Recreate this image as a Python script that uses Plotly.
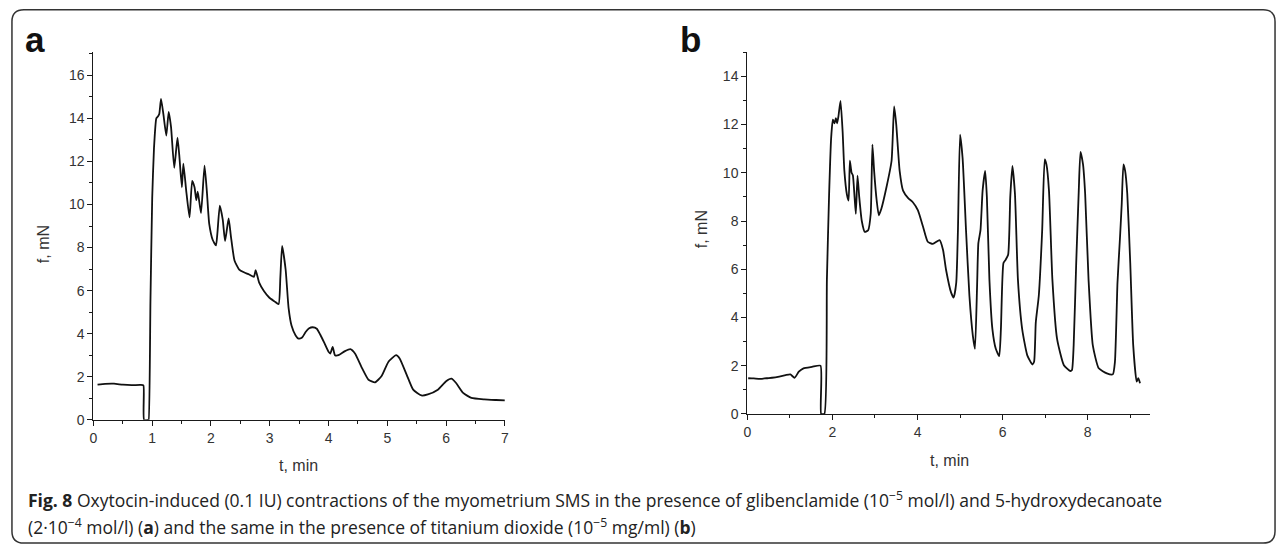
import plotly.graph_objects as go

# ---------------- data ----------------
a_t = [0.07, 0.2, 0.35, 0.5, 0.65, 0.8, 0.85, 0.862, 0.935, 0.94, 0.97, 1.0, 1.03, 1.07,
       1.1, 1.12, 1.15, 1.19, 1.24, 1.28, 1.32, 1.375, 1.43, 1.46, 1.505, 1.53, 1.58, 1.635,
       1.68, 1.72, 1.75, 1.775, 1.83, 1.89, 1.93, 1.97, 2.03, 2.085, 2.11, 2.15, 2.2, 2.24,
       2.30, 2.34, 2.40, 2.48, 2.56, 2.65, 2.73, 2.76, 2.82, 2.90, 2.99, 3.08, 3.15, 3.18,
       3.21, 3.27, 3.32, 3.37, 3.44, 3.49, 3.55, 3.61, 3.67, 3.73, 3.80, 3.86, 3.92, 4.0,
       4.03, 4.07, 4.11, 4.17, 4.28, 4.37, 4.45, 4.57, 4.68, 4.79, 4.9, 5.02, 5.15, 5.21,
       5.33, 5.44, 5.58, 5.69, 5.86, 6.0, 6.09, 6.17, 6.29, 6.43, 6.65, 6.85, 7.0]
a_f = [1.63, 1.67, 1.68, 1.63, 1.61, 1.62, 1.6, 0.0, 0.0, 0.0, 5.5, 10.3, 12.6, 14.0,
       14.1, 14.2, 14.9, 14.2, 13.2, 14.3, 13.6, 11.7, 13.1, 12.3, 10.8, 11.9, 10.6, 9.4,
       11.1, 10.8, 10.2, 10.6, 9.6, 11.8, 10.6, 9.1, 8.35, 8.1, 8.7, 9.95, 9.3, 8.3,
       9.35, 8.5, 7.4, 6.98, 6.85, 6.75, 6.64, 6.95, 6.37, 5.98, 5.68, 5.5, 5.37, 6.6,
       8.08, 6.98, 5.2, 4.38, 3.92, 3.77, 3.82, 4.08, 4.25, 4.3, 4.23, 3.95, 3.62, 3.16,
       3.08, 3.39, 3.0, 3.0, 3.19, 3.28, 3.08, 2.4, 1.86, 1.74, 2.02, 2.7, 3.0, 2.85,
       2.09, 1.40, 1.13, 1.18, 1.4, 1.79, 1.91, 1.71, 1.25, 1.02, 0.95, 0.92, 0.9]

b_t = [0.02, 0.15, 0.3, 0.45, 0.58, 0.75, 0.9, 1.01, 1.11, 1.21, 1.32, 1.52, 1.72, 1.735,
       1.81, 1.87, 1.92, 1.97, 2.01, 2.05, 2.08, 2.11, 2.14, 2.19, 2.24, 2.28, 2.34, 2.38,
       2.41, 2.45, 2.48, 2.52, 2.55, 2.59, 2.63, 2.69, 2.76, 2.84, 2.9, 2.94, 2.98, 3.04,
       3.09, 3.15, 3.27, 3.39, 3.45, 3.50, 3.58, 3.66, 3.78, 3.89, 4.01, 4.13, 4.24, 4.36,
       4.52, 4.60, 4.67, 4.79, 4.85, 4.91, 4.95, 5.0, 5.06, 5.14, 5.22, 5.3, 5.35, 5.40,
       5.43, 5.48, 5.53, 5.59, 5.63, 5.69, 5.76, 5.84, 5.92, 5.96, 6.02, 6.07, 6.13, 6.18,
       6.23, 6.29, 6.36, 6.46, 6.58, 6.70, 6.74, 6.78, 6.85, 6.93, 6.99, 7.03, 7.09, 7.17,
       7.28, 7.44, 7.59, 7.63, 7.67, 7.73, 7.79, 7.83, 7.89, 7.94, 8.02, 8.12, 8.26, 8.45,
       8.59, 8.64, 8.70, 8.76, 8.80, 8.84, 8.88, 8.93, 9.0, 9.07, 9.15, 9.19, 9.23]
b_f = [1.48, 1.47, 1.45, 1.48, 1.5, 1.55, 1.61, 1.64, 1.5, 1.75, 1.89, 1.95, 2.0, 0.0,
       0.0, 5.57, 9.0, 11.45, 12.2, 12.05, 12.27, 12.05, 12.33, 12.98, 11.7, 10.1, 9.1, 8.85,
       10.5, 10.0, 9.9, 9.0, 8.3, 9.88, 9.0, 8.0, 7.55, 7.62, 8.3, 11.17, 10.08, 8.85,
       8.24, 8.51, 9.4, 10.5, 12.75, 12.0, 10.08, 9.26, 8.95, 8.78, 8.44, 7.76, 7.14, 7.05,
       7.21, 6.8, 5.98, 5.03, 4.82, 5.44, 7.62, 11.58, 10.6, 7.62, 4.89, 3.25, 2.7, 5.3,
       7.08, 7.62, 9.26, 10.08, 9.0, 5.57, 3.52, 2.7, 2.4, 3.52, 6.26, 6.39, 6.6, 9.0,
       10.29, 9.13, 5.57, 3.52, 2.43, 2.05, 2.16, 3.8, 4.89, 7.62, 10.56, 10.35, 9.26, 5.57,
       3.11, 2.02, 1.78, 1.82, 2.84, 6.26, 9.26, 10.87, 10.35, 9.13, 5.57, 2.84, 1.89, 1.68,
       1.64, 2.16, 5.44, 7.35, 8.72, 10.35, 10.08, 9.13, 6.26, 2.84, 1.34, 1.48, 1.27]

a_xticks = [0, 1, 2, 3, 4, 5, 6, 7]
a_yticks = [0, 2, 4, 6, 8, 10, 12, 14, 16]
b_xticks = [0, 2, 4, 6, 8]
b_yticks = [0, 2, 4, 6, 8, 10, 12, 14]

x_title = "t, min"
y_title = "f, mN"
caption_1 = ("<b>Fig. 8</b> Oxytocin-induced (0.1 IU) contractions of the myometrium SMS in the presence "
             "of glibenclamide (10<sup>\u22125</sup> mol/l) and 5-hydroxydecanoate")
caption_2 = ("(2\u00b710<sup>\u22124</sup> mol/l) (<b>a</b>) and the same in the presence of titanium "
             "dioxide (10<sup>\u22125</sup> mg/ml) (<b>b</b>)")

# ---------------- figure ----------------
W, H = 1284, 552
def px(x):
    return x / W
def py(y):
    return 1 - y / H

LINE = "#1a1a1a"
TXT = "#333333"
tickfont = dict(family="Liberation Sans, Arial", size=14, color=TXT)

fig = go.Figure()
fig.add_trace(go.Scatter(x=a_t, y=a_f, mode="lines",
                         line=dict(color="#111111", width=1.8, shape="spline", smoothing=0.5),
                         xaxis="x", yaxis="y", showlegend=False, hoverinfo="skip"))
fig.add_trace(go.Scatter(x=b_t, y=b_f, mode="lines",
                         line=dict(color="#111111", width=1.8, shape="spline", smoothing=0.5),
                         xaxis="x2", yaxis="y2", showlegend=False, hoverinfo="skip"))

def axis(domain, rng, tickvals, minor_dtick, anchor):
    return dict(domain=domain, range=rng, tickvals=tickvals, ticks="outside", ticklen=5,
                tickwidth=1.2, tickcolor=LINE, showline=True, linecolor=LINE, linewidth=1.2,
                showgrid=False, zeroline=False, tickfont=tickfont, anchor=anchor,
                minor=dict(ticks="outside", ticklen=3, tickwidth=1.2, tickcolor=LINE,
                           dtick=minor_dtick, tick0=0, showgrid=False))

fig.update_layout(
    width=W, height=H, margin=dict(l=0, r=0, t=0, b=0),
    paper_bgcolor="white", plot_bgcolor="white",
    xaxis=axis([px(90), px(504)], [0, 7], a_xticks, 0.5, "y"),
    yaxis=axis([py(426), py(53)], [0, 17.07], a_yticks, 1, "x"),
    xaxis2=axis([px(748), px(1153)], [0, 9.46], b_xticks, 1, "y2"),
    yaxis2=axis([py(420), py(53)], [0, 15.0], b_yticks, 1, "x2"),
)

ann = []
def add_text(x, y, text, size, angle=0, family="Liberation Sans, Arial", xanchor="center", color=TXT):
    ann.append(dict(x=px(x), y=py(y), xref="paper", yref="paper", text=text, showarrow=False,
                    font=dict(family=family, size=size, color=color), textangle=angle,
                    xanchor=xanchor, yanchor="middle"))

add_text(31, 40, "<b>a</b>", 35, color="#111111")
add_text(691, 40, "<b>b</b>", 35, color="#111111")
add_text(296, 472, x_title, 16)
add_text(951, 467, x_title, 16)
add_text(40, 248, y_title, 16, angle=-90)
add_text(702, 233, y_title, 16, angle=-90)
add_text(22, 507, caption_1, 17.5, family="Open Sans", xanchor="left", color="#222222")
add_text(22, 534, caption_2, 17.5, family="Open Sans", xanchor="left", color="#222222")
fig.update_layout(annotations=ann)

# rounded frame around the whole figure
r = 12
x0, y0, x1, y1 = 8, 10, 1279, 551
path = (f"M {px(x0)},{py(y0 + r)} Q {px(x0)},{py(y0)} {px(x0 + r)},{py(y0)} "
        f"L {px(x1 - r)},{py(y0)} Q {px(x1)},{py(y0)} {px(x1)},{py(y0 + r)} "
        f"L {px(x1)},{py(y1 - r)} Q {px(x1)},{py(y1)} {px(x1 - r)},{py(y1)} "
        f"L {px(x0 + r)},{py(y1)} Q {px(x0)},{py(y1)} {px(x0)},{py(y1 - r)} Z")
fig.add_shape(type="path", path=path, xref="paper", yref="paper",
              line=dict(color="#333333", width=1.5), fillcolor="rgba(0,0,0,0)")

fig.write_html("out.html")
